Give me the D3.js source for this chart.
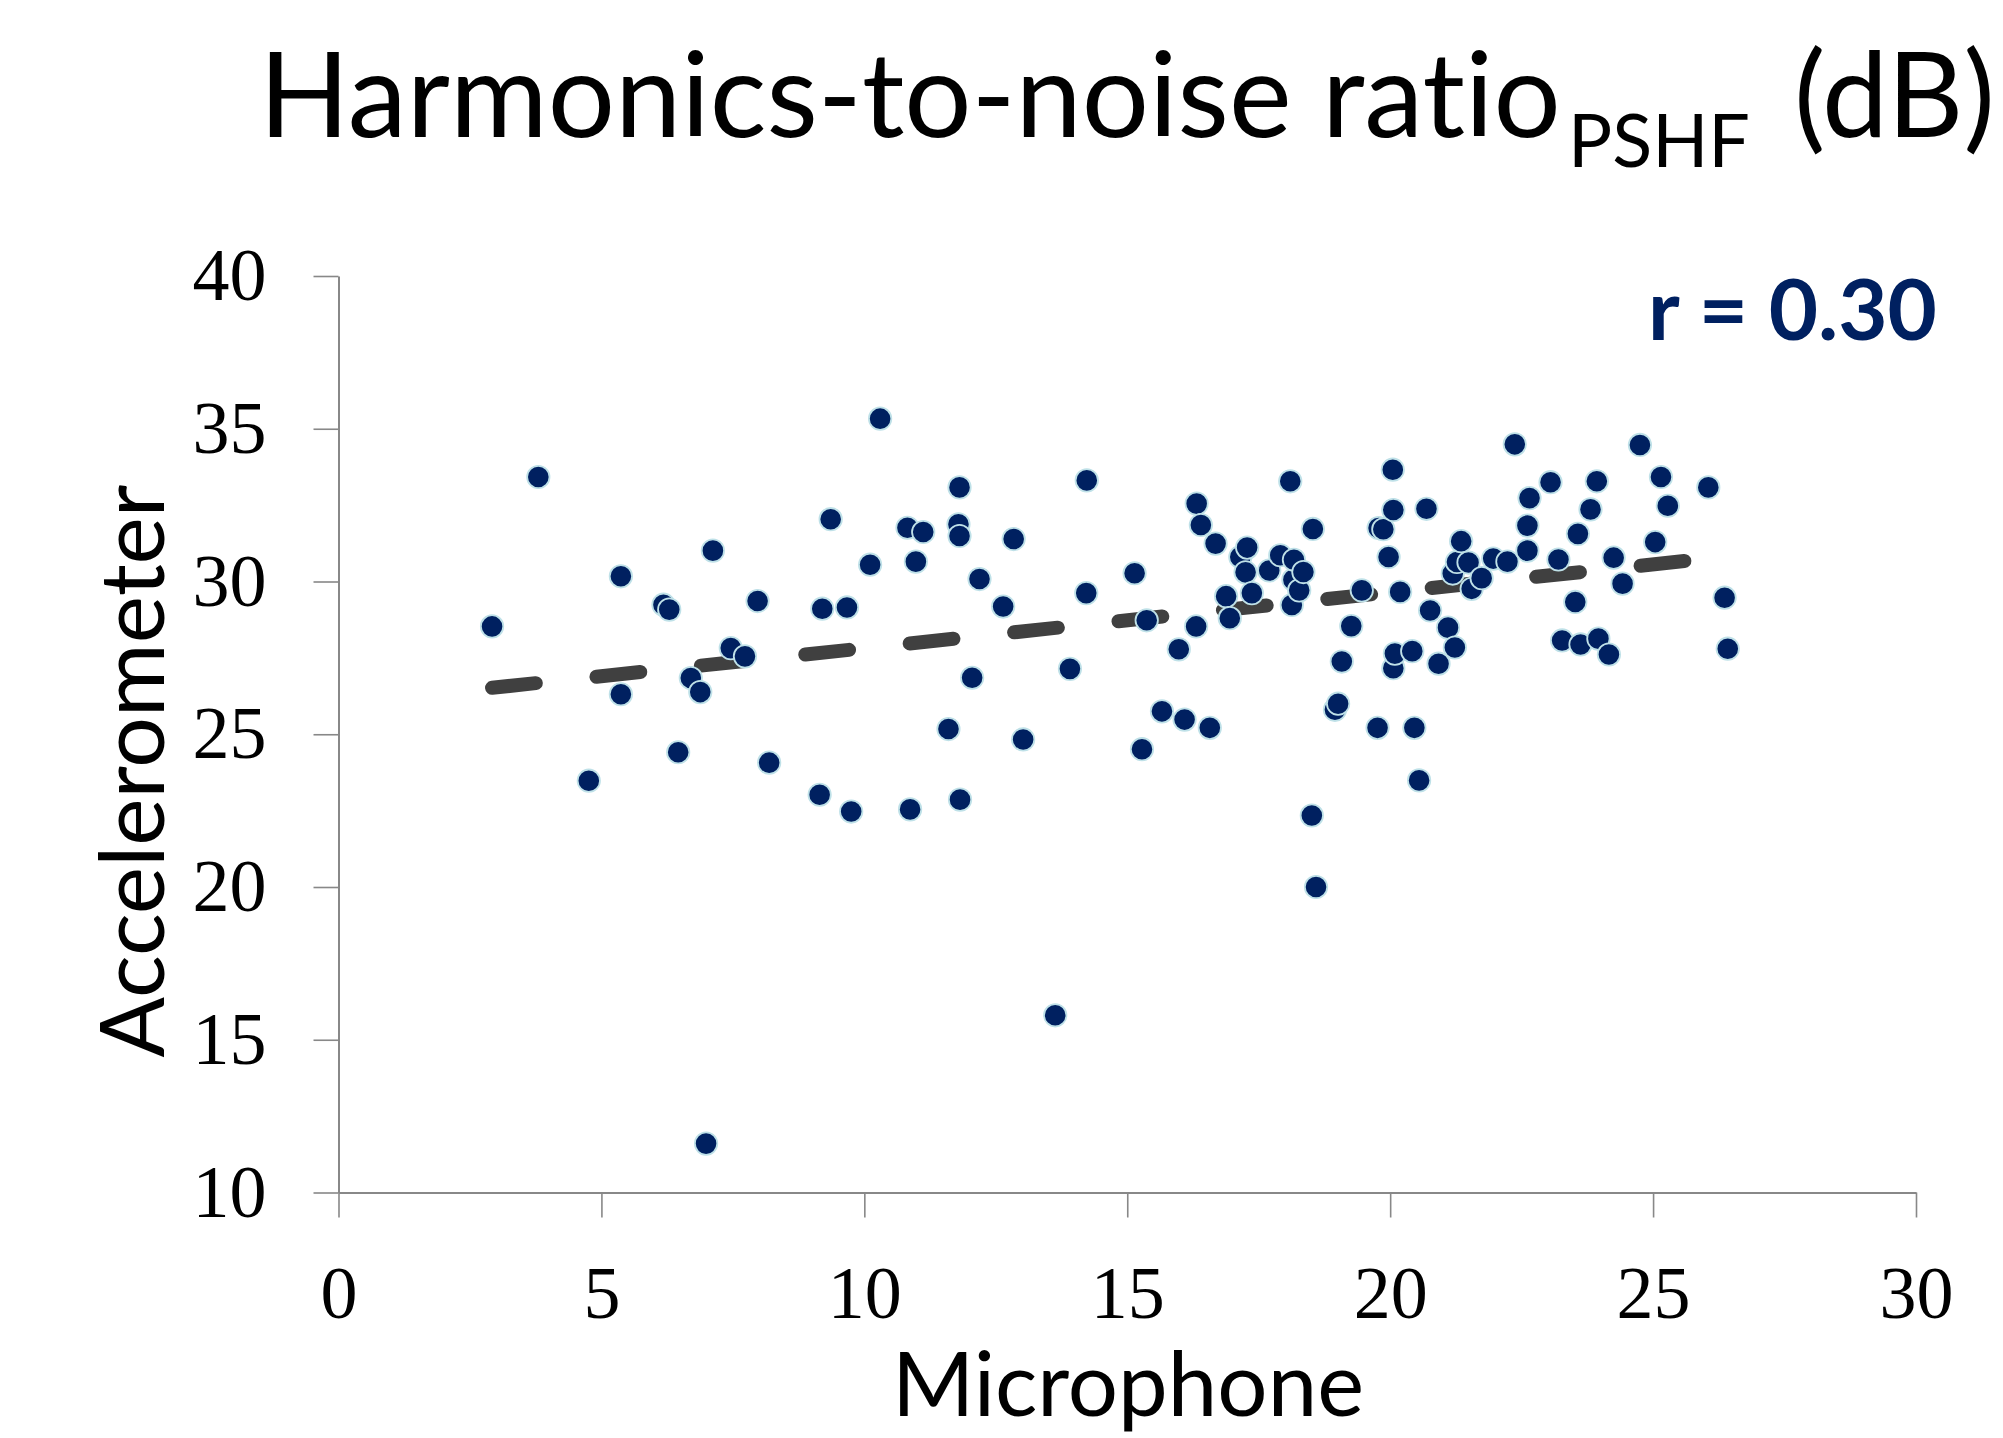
<!DOCTYPE html>
<html>
<head>
<meta charset="utf-8">
<script src="https://cdn.jsdelivr.net/npm/d3@7/dist/d3.min.js"></script>
<style>
  body { margin: 0; background: #fff; }
  svg { display: block; }
  text { font-variant-ligatures: none; }
</style>
</head>
<body>
<svg id="chart" width="2003" height="1438"></svg>
<script>
'use strict'

// microphone vs accelerometer HNR, one entry per recording
const micX = [
  2.92, 3.80, 4.76, 5.37, 5.37, 6.18, 6.29, 6.46, 6.70, 6.88,
  6.99, 7.12, 7.46, 7.73, 7.97, 8.19, 9.15, 9.20, 9.36, 9.67,
  9.75, 10.11, 10.30, 10.82, 10.87, 10.98, 11.12, 11.60, 11.79, 11.81,
  11.81, 11.82, 12.05, 12.19, 12.64, 12.84, 13.02, 13.63, 13.91, 14.22,
  14.23, 15.14, 15.28, 15.37, 15.66, 15.98, 16.09, 16.31, 16.32, 16.40,
  16.57, 16.68, 16.88, 16.95, 17.15, 17.25, 17.28, 17.37, 17.70, 17.91,
  18.10, 18.13, 18.16, 18.17, 18.27, 18.35, 18.51, 18.53, 18.59, 18.95,
  19.01, 19.08, 19.26, 19.46, 19.76, 19.78, 19.87, 19.97, 20.05, 20.06,
  20.06, 20.09, 20.19, 20.42, 20.46, 20.55, 20.69, 20.76, 20.92, 21.10,
  21.19, 21.23, 21.27, 21.35, 21.49, 21.55, 21.74, 21.96, 22.23, 22.37,
  22.61, 22.61, 22.65, 23.05, 23.20, 23.27, 23.52, 23.57, 23.62, 23.81,
  23.93, 23.96, 24.16, 24.25, 24.42, 24.75, 25.04, 25.15, 25.28, 26.05,
  26.36, 26.42
]
const accY = [
  28.53, 33.42, 23.48, 30.17, 26.31, 29.24, 29.08, 24.41, 26.84, 26.38,
  11.60, 31.01, 27.82, 27.55, 29.36, 24.07, 23.02, 29.11, 32.04, 29.15,
  22.47, 30.55, 35.33, 31.76, 22.54, 30.65, 31.62, 25.17, 31.87, 33.08,
  31.49, 22.86, 26.85, 30.08, 29.18, 31.39, 24.83, 15.80, 27.14, 29.62,
  33.31, 30.27, 24.51, 28.73, 25.75, 27.78, 25.48, 28.53, 32.55, 31.85,
  25.21, 31.24, 29.52, 28.80, 30.80, 30.30, 31.11, 29.62, 30.36, 30.86,
  33.28, 29.23, 30.06, 30.71, 29.71, 30.31, 22.34, 31.72, 20.00, 25.80,
  26.00, 27.38, 28.54, 29.71, 25.21, 31.75, 31.71, 30.80, 33.66, 32.34,
  27.16, 27.64, 29.66, 27.72, 25.21, 23.49, 32.38, 29.05, 27.31, 28.49,
  30.26, 27.84, 30.64, 31.32, 30.62, 29.76, 30.11, 30.75, 30.65, 34.49,
  31.01, 31.83, 32.73, 33.25, 30.72, 28.07, 29.33, 31.56, 27.94, 32.36,
  33.28, 28.13, 27.61, 30.78, 29.93, 34.47, 31.29, 33.42, 32.48, 33.08,
  29.47, 27.80
]

// linear trendline ends, as drawn
const trendX = [2.92, 26.42]
const trendY = [26.52, 30.82]

const xTicks = [0, 5, 10, 15, 20, 25, 30]
const yTicks = [10, 15, 20, 25, 30, 35, 40]

const titleMain = 'Harmonics-to-noise ratio'
const titleSub = 'PSHF'
const titleUnit = '(dB)'
const xLabel = 'Microphone'
const yLabel = 'Accelerometer'
const rLabel = 'r = 0.30'

const navy = '#002060'
const axisGrey = '#888888'

const svg = d3.select('#chart')

const x = d3.scaleLinear().domain([0, 30]).range([338.5, 1916])
const y = d3.scaleLinear().domain([10, 40]).range([1192.5, 276])

// scale a text's font-size so it spans the given width
const fitWidth = function (sel, target) {
  const w = sel.node().getComputedTextLength()
  const size = parseFloat(sel.attr('font-size'))
  sel.attr('font-size', size * target / w)
  return sel
}

const styleAxis = function (g) {
  g.select('.domain').attr('stroke', axisGrey).attr('stroke-width', 2)
  g.selectAll('.tick line').attr('stroke', axisGrey).attr('stroke-width', 1.6)
  g.selectAll('.tick text')
    .attr('fill', '#000')
    .attr('font-family', '"Liberation Serif", "Times New Roman", serif')
    .attr('font-size', 74)
}

svg.append('g')
  .attr('transform', `translate(${x(0)},0)`)
  .call(d3.axisLeft(y).tickValues(yTicks).tickSize(25).tickSizeOuter(0).tickPadding(47))
  .call(styleAxis)

svg.append('g')
  .attr('transform', `translate(0,${y(10)})`)
  .call(d3.axisBottom(x).tickValues(xTicks).tickSize(25).tickSizeOuter(0).tickPadding(48))
  .call(styleAxis)

// dashed trendline, under the points
svg.append('line')
  .attr('x1', x(trendX[0]))
  .attr('y1', y(trendY[0]))
  .attr('x2', x(trendX[1]))
  .attr('y2', y(trendY[1]))
  .attr('stroke', '#404040')
  .attr('stroke-width', 14)
  .attr('stroke-linecap', 'round')
  .attr('stroke-dasharray', '44 61')

const points = micX.map((v, i) => ({ mic: v, acc: accY[i] }))

svg.append('g')
  .selectAll('circle')
  .data(points)
  .join('circle')
  .attr('cx', d => x(d.mic))
  .attr('cy', d => y(d.acc))
  .attr('r', 11.2)
  .attr('fill', navy)
  .attr('stroke', '#bfe1e8')
  .attr('stroke-width', 1.8)

const sansFont = 'Lato, "Open Sans", sans-serif'

const t1 = svg.append('text')
  .attr('x', 259).attr('y', 137)
  .attr('font-family', sansFont).attr('font-size', 120)
  .text(titleMain)
fitWidth(t1, 1302)

const t2 = svg.append('text')
  .attr('x', 1568).attr('y', 167)
  .attr('font-family', sansFont).attr('font-size', 60)
  .text(titleSub)
fitWidth(t2, 182)

const t3 = svg.append('text')
  .attr('x', 1794).attr('y', 137)
  .attr('font-family', sansFont).attr('font-size', 120)
  .text(titleUnit)
fitWidth(t3, 201)

// kept just high enough that the descender stays on the page
const xl = svg.append('text')
  .attr('x', 1128).attr('y', 1416)
  .attr('text-anchor', 'middle')
  .attr('font-family', sansFont).attr('font-size', 80)
  .text(xLabel)
fitWidth(xl, 472)

const yl = svg.append('text')
  .attr('transform', 'translate(164,771) rotate(-90)')
  .attr('text-anchor', 'middle')
  .attr('font-family', sansFont).attr('font-size', 80)
  .text(yLabel)
fitWidth(yl, 573)

const rl = svg.append('text')
  .attr('x', 1648).attr('y', 340)
  .attr('font-family', sansFont).attr('font-weight', 700).attr('font-size', 90)
  .attr('fill', navy)
  .text(rLabel)
fitWidth(rl, 289)
</script>
</body>
</html>
